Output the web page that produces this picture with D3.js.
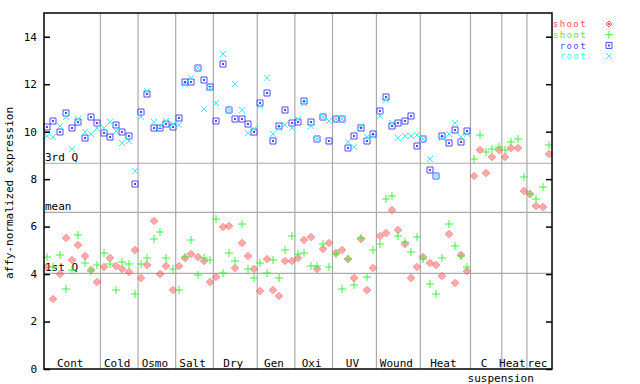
<!DOCTYPE html>
<html>
<head>
<meta charset="utf-8">
<script src="https://cdn.jsdelivr.net/npm/d3@7"></script>
<style>
  body { margin: 0; background: #fff; }
  svg text { font-family: "DejaVu Sans Mono", monospace; font-size: 11px; }
  svg text.legend { font-size: 9px; letter-spacing: 1.4px; }
</style>
</head>
<body>
<svg width="640" height="384"></svg>
<script>
const groups = ["Cont", "Cold", "Osmo", "Salt", "Dry", "Gen", "Oxi", "UV", "Wound", "Heat", "C", "Heat", "rec"];
const groupSizes = [9, 6, 6, 6, 7, 6, 6, 7, 7, 8, 5, 4, 4];
const subLabel = "suspension";

const refNames = ["3rd Q", "mean", "1st Q"];
const refValues = [8.67, 6.60, 4.03];

const yTicks = [0, 2, 4, 6, 8, 10, 12, 14];

// shoot (red), shoot (green), root (blue), root (cyan)
const shoot1 = [
  4.29, 2.94, 3.99, 5.51, 4.58, 5.21, 4.75, 4.16, 3.65,
  4.29, 4.66, 4.33, 4.20, 4.07, 5.00,
  3.82, 4.37, 6.22, 3.99, 4.33, 3.32,
  4.33, 4.66, 4.83, 4.71, 4.54, 3.65,
  3.86, 5.97, 6.01, 4.24, 5.30, 4.75, 4.20,
  3.27, 4.62, 3.32, 3.06, 4.54, 4.54,
  4.66, 5.42, 5.55, 4.20, 5.04, 5.30,
  4.88, 5.00, 4.62, 3.82, 5.47, 3.32, 4.24,
  5.59, 5.72, 6.69, 5.85, 5.25, 3.82, 4.29,
  4.71, 4.45, 4.37, 3.91, 5.68, 3.61, 4.79, 4.12,
  8.12, 9.22, 8.25, 8.92, 9.22,
  8.92, 9.30, 9.30, 7.49,
  7.36, 6.86, 6.81, 9.05
];
const shoot2 = [
  4.71, 4.29, 4.79, 3.36, 4.16, 5.63, 4.45, 4.12, 4.37,
  4.88, 4.41, 3.32, 4.50, 4.41, 3.15,
  4.41, 4.66, 5.47, 5.76, 4.66, 4.20,
  3.32, 4.71, 5.42, 3.95, 4.66, 4.58,
  6.31, 4.03, 4.88, 4.54, 6.10, 4.20, 3.82,
  4.45, 4.03, 4.58, 3.82, 5.00, 5.59,
  4.83, 4.88, 4.33, 4.33, 5.25, 4.29,
  4.83, 3.36, 4.62, 3.53, 5.51, 3.86, 5.00,
  5.25, 7.16, 7.28, 5.59, 5.34, 4.92, 5.55,
  4.62, 3.57, 3.15, 4.66, 6.10, 5.17, 4.75, 4.29,
  8.84, 9.85, 9.13, 9.26, 9.34,
  9.22, 9.55, 9.68, 8.08,
  7.36, 7.15, 7.66, 9.43
];
const root1 = [
  10.19, 10.44, 9.97, 10.78, 10.14, 10.40, 9.72, 10.61, 10.35,
  9.93, 9.76, 10.27, 9.97, 9.81, 7.78,
  10.82, 11.58, 10.14, 10.14, 10.31, 10.19,
  10.56, 12.08, 12.08, 12.67, 12.17, 11.87,
  10.44, 12.84, 10.90, 10.52, 10.52, 10.31, 9.97,
  11.20, 11.62, 9.60, 10.23, 10.90, 10.35,
  10.40, 11.28, 10.40, 9.68, 10.61, 9.60,
  10.52, 10.52, 9.30, 9.81, 10.14, 9.60, 9.89,
  10.86, 11.45, 10.23, 10.35, 10.44, 10.65, 9.38,
  9.69, 8.37, 8.13, 9.81, 9.51, 10.06, 9.55, 10.02
];
const root2 = [
  9.81, 9.76, 10.23, 10.61, 9.26, 10.52, 9.97, 9.89, 10.14,
  10.14, 10.40, 10.02, 9.51, 9.60, 8.36,
  10.61, 11.70, 10.40, 10.19, 10.44, 10.31,
  10.27, 12.00, 12.25, 12.67, 10.94, 11.83,
  11.20, 13.26, 10.90, 12.00, 10.90, 9.93, 10.10,
  11.07, 12.25, 9.89, 10.14, 10.27, 10.14,
  10.52, 11.20, 10.23, 9.68, 10.61, 10.44,
  10.52, 10.52, 9.58, 9.34, 10.23, 9.76, 9.81,
  10.65, 11.32, 10.35, 9.72, 9.81, 9.81, 9.85,
  9.69, 8.84, 8.13, 9.72, 9.89, 10.35, 9.76, 9.89
];

const seriesNames = ["shoot", "shoot", "root", "root"];

const svg = d3.select("svg");
const mLeft = 44, mRight = 552, mTop = 13, mBottom = 369;
const nSamples = d3.sum(groupSizes);

const x = d3.scaleLinear().domain([0, nSamples]).range([mLeft, mRight]);
const y = d3.scaleLinear().domain([0, 15]).range([mBottom, mTop]);

// marker shapes
const marks = {
  diamond: r => `M0,${-r}L${r},0L0,${r}L${-r},0Z M0,${-r + 2}L${r - 2},0L0,${r - 2}L${-r + 2},0Z`,
  plus: r => `M${-r},0H${r}M0,${-r}V${r}`,
  square: r => `M${-r},${-r}H${r}V${r}H${-r}Z`,
  times: r => `M${-r},${-r}L${r},${r}M${-r},${r}L${r},${-r}`
};

const series = [
  { name: seriesNames[0], values: shoot1, color: "#ff4d4d", shape: "diamond", r: 3.5 },
  { name: seriesNames[1], values: shoot2, color: "#40f040", shape: "plus", r: 4 },
  { name: seriesNames[2], values: root1, color: "#4d4dff", shape: "square", r: 3 },
  { name: seriesNames[3], values: root2, color: "#40f0f0", shape: "times", r: 3 }
];

// group separators
const bounds = d3.cumsum(groupSizes);
svg.append("g")
  .selectAll("line")
  .data(bounds.slice(0, -1))
  .join("line")
  .attr("x1", d => x(d)).attr("x2", d => x(d))
  .attr("y1", mTop).attr("y2", mBottom)
  .attr("stroke", "#aaaaaa")
  .attr("stroke-width", 1.2);

// reference lines
const refs = svg.append("g");
refs.selectAll("line")
  .data(refValues)
  .join("line")
  .attr("x1", mLeft).attr("x2", mRight)
  .attr("y1", d => y(d)).attr("y2", d => y(d))
  .attr("stroke", "#aaaaaa")
  .attr("stroke-width", 1.2);
refs.selectAll("text")
  .data(refNames)
  .join("text")
  .attr("x", mLeft + 1)
  .attr("y", (d, i) => y(refValues[i]) - 2)
  .attr("fill", "black")
  .text(d => d);

// points
series.forEach(s => {
  svg.append("g")
    .selectAll("path")
    .data(s.values)
    .join("path")
    .attr("transform", (d, i) => `translate(${Math.round(x(i + 0.5))},${Math.round(y(d))})`)
    .attr("d", marks[s.shape](s.r))
    .attr("fill", "none")
    .attr("stroke", s.color)
    .attr("stroke-width", 1);
  if (s.shape === "square") {
    svg.append("g")
      .selectAll("rect")
      .data(s.values)
      .join("rect")
      .attr("x", (d, i) => Math.round(x(i + 0.5)) - 1)
      .attr("y", d => Math.round(y(d)) - 1)
      .attr("width", 2).attr("height", 2)
      .attr("fill", s.color);
  }
});

// frame
svg.append("rect")
  .attr("x", mLeft).attr("y", mTop)
  .attr("width", mRight - mLeft).attr("height", mBottom - mTop)
  .attr("fill", "none")
  .attr("stroke", "black")
  .attr("stroke-width", 1.5);

// y ticks, both sides pointing inward
const yAxisL = d3.axisRight(y).tickValues(yTicks).tickSize(6).tickFormat("");
const yAxisR = d3.axisLeft(y).tickValues(yTicks).tickSize(6).tickFormat("");
svg.append("g").attr("transform", `translate(${mLeft},0)`).call(yAxisL)
  .call(g => g.select(".domain").remove())
  .selectAll("line").attr("stroke-width", 1.5);
svg.append("g").attr("transform", `translate(${mRight},0)`).call(yAxisR)
  .call(g => g.select(".domain").remove())
  .selectAll("line").attr("stroke-width", 1.5);

svg.append("g")
  .selectAll("text")
  .data(yTicks)
  .join("text")
  .attr("x", 37)
  .attr("y", d => y(d))
  .attr("dy", "0.35em")
  .attr("text-anchor", "end")
  .text(d => d);

svg.append("text")
  .attr("transform", `translate(13,${(mTop + mBottom) / 2 + 2}) rotate(-90)`)
  .attr("text-anchor", "middle")
  .text("affy-normalized expression");

// group labels
const starts = [0, ...bounds.slice(0, -1)];
svg.append("g")
  .selectAll("text")
  .data(groups)
  .join("text")
  .attr("x", (d, i) => (x(starts[i]) + x(bounds[i])) / 2 - 2)
  .attr("y", 367)
  .attr("text-anchor", "middle")
  .text(d => d);

svg.append("text")
  .attr("x", (x(starts[10]) + x(bounds[11])) / 2 + 2)
  .attr("y", 382)
  .attr("text-anchor", "middle")
  .text(subLabel);

// legend
const legend = svg.append("g")
  .selectAll("g")
  .data(series)
  .join("g")
  .attr("transform", (d, i) => `translate(0,${24 + i * 10.7})`);
legend.append("text")
  .attr("class", "legend")
  .attr("x", 587)
  .attr("dy", "0.35em")
  .attr("text-anchor", "end")
  .attr("fill", d => d.color)
  .text(d => d.name);
legend.append("path")
  .attr("transform", "translate(609,0)")
  .attr("d", d => marks[d.shape](d.shape === "diamond" ? 3 : d.r))
  .attr("fill", "none")
  .attr("stroke", d => d.color);
legend.filter(d => d.shape === "square")
  .append("rect")
  .attr("x", 608).attr("y", -1)
  .attr("width", 2).attr("height", 2)
  .attr("fill", d => d.color);
</script>
</body>
</html>
